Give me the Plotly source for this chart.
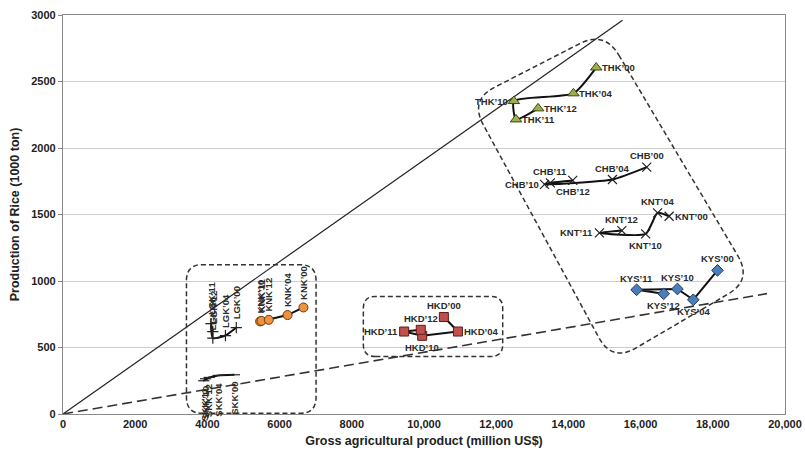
import plotly.graph_objects as go

# ---------------- data ----------------
years = ["’00", "’04", "’10", "’11", "’12"]

thk_x = [14770, 14140, 12490, 12550, 13160]
thk_y = [2605, 2411, 2353, 2215, 2298]
chb_x = [16170, 15220, 13340, 13500, 14120]
chb_y = [1856, 1763, 1726, 1738, 1756]
knt_x = [16790, 16470, 16140, 14860, 15480]
knt_y = [1487, 1512, 1354, 1362, 1379]
kys_x = [18130, 17460, 17020, 15890, 16640]
kys_y = [1080, 859, 940, 934, 904]
hkd_x = [10550, 10940, 9950, 9450, 9910]
hkd_y = [729, 620, 588, 620, 633]
knk_x = [6660, 6220, 5460, 5500, 5700]
knk_y = [801, 744, 696, 700, 708]
lgk_x = [4800, 4500, 4150, 4100, 4150]
lgk_y = [650, 590, 570, 680, 620]
skk_x = [4750, 4300, 3950, 3900, 4050]
skk_y = [295, 290, 265, 250, 275]

upper_line_x = [0, 15500]
upper_line_y = [0, 2960]
lower_line_x = [0, 19500]
lower_line_y = [0, 905]

x_tickvals = [0, 2000, 4000, 6000, 8000, 10000, 12000, 14000, 16000, 18000, 20000]
x_ticktext = ["0", "2000", "4000", "6000", "8000", "10,000", "12,000", "14,000", "16,000", "18,000", "20,000"]
y_tickvals = [0, 500, 1000, 1500, 2000, 2500, 3000]

# group outlines (data units)
left_box = [(3420, 5), (7010, 5), (7010, 1123), (3420, 1123)]
mid_box = [(8320, 432), (12180, 432), (12180, 884), (8320, 884)]
big_box = [(15000, 2880), (19090, 1008), (15210, 391), (11270, 2361)]

# ---------------- style ----------------
FONT = "Liberation Sans Narrow, Arial Narrow, Liberation Sans, sans-serif"
LBL = dict(family=FONT, size=9.5, color="#2a2a2a", weight="bold")
XR = (0, 20000)
YR = (0, 3000)
ML, MR, MT, MB = 63, 20, 15, 48
PW, PH = 805 - ML - MR, 462 - MT - MB

series = [
    ("THK", thk_x, thk_y, dict(symbol="triangle-up", size=10, color="#9BAF4F", line=dict(color="#3a4a10", width=1)), "spline", ["r", "r", "l", "r", "r"]),
    ("CHB", chb_x, chb_y, dict(symbol="x-thin", size=9, color="#222", line=dict(color="#222", width=1.2)), "spline", ["t", "t", "l", "t", "b"]),
    ("KNT", knt_x, knt_y, dict(symbol="x-thin", size=9, color="#222", line=dict(color="#222", width=1.2)), "spline", ["r", "t", "b", "l", "t"]),
    ("KYS", kys_x, kys_y, dict(symbol="diamond", size=9, color="#4A7EBB", line=dict(color="#1f3a60", width=1)), "linear", ["t", "b", "t", "t", "b"]),
    ("HKD", hkd_x, hkd_y, dict(symbol="square", size=9, color="#C0504D", line=dict(color="#5a1a18", width=1)), "linear", ["t", "r", "b", "l", "t"]),
    ("KNK", knk_x, knk_y, dict(symbol="circle", size=9, color="#F0913F", line=dict(color="#6a3a10", width=1)), "linear", ["vt"] * 5),
    ("LGK", lgk_x, lgk_y, dict(symbol="cross-thin", size=8, color="#222", line=dict(color="#222", width=1.2)), "spline", ["vt"] * 5),
    ("SKK", skk_x, skk_y, dict(symbol="line-ew", size=8, color="#222", line=dict(color="#222", width=1.2)), "spline", ["vb"] * 5),
]

fig = go.Figure()

fig.add_trace(go.Scatter(x=upper_line_x, y=upper_line_y, mode="lines",
                         line=dict(color="#222", width=1.2), showlegend=False, hoverinfo="skip"))
fig.add_trace(go.Scatter(x=lower_line_x, y=lower_line_y, mode="lines",
                         line=dict(color="#333", width=1.6, dash="10px,5px"), showlegend=False, hoverinfo="skip"))

annotations = []
for name, xs, ys, mk, shape, pos in series:
    fig.add_trace(go.Scatter(x=xs, y=ys, mode="lines+markers", name=name,
                             line=dict(color="#111", width=2, shape=shape, smoothing=0.55),
                             marker=mk, showlegend=False))
    for xv, yv, yr, p in zip(xs, ys, years, pos):
        a = dict(x=xv, y=yv, xref="x", yref="y", text=name + yr, showarrow=False, font=LBL)
        if p == "r":
            a.update(xanchor="left", yanchor="middle", xshift=4)
        elif p == "l":
            a.update(xanchor="right", yanchor="middle", xshift=-4)
        elif p == "t":
            a.update(xanchor="center", yanchor="bottom", yshift=4)
        elif p == "b":
            a.update(xanchor="center", yanchor="top", yshift=-4)
        elif p == "vt":
            a.update(textangle=-90, xanchor="center", yanchor="bottom", yshift=6)
        elif p == "vb":
            a.update(textangle=-90, xanchor="center", yanchor="top", yshift=-5)
        annotations.append(a)


def to_px(pt):
    return ((pt[0] - XR[0]) / (XR[1] - XR[0]) * PW, (pt[1] - YR[0]) / (YR[1] - YR[0]) * PH)


def to_data(p):
    return (p[0] / PW * (XR[1] - XR[0]) + XR[0], p[1] / PH * (YR[1] - YR[0]) + YR[0])


def rounded_path(corners, r):
    pts = [to_px(c) for c in corners]
    n = len(pts)
    segs = []
    for i in range(n):
        p0, p1, p2 = pts[i - 1], pts[i], pts[(i + 1) % n]
        d1 = ((p0[0] - p1[0]) ** 2 + (p0[1] - p1[1]) ** 2) ** 0.5
        d2 = ((p2[0] - p1[0]) ** 2 + (p2[1] - p1[1]) ** 2) ** 0.5
        a = (p1[0] + (p0[0] - p1[0]) * r / d1, p1[1] + (p0[1] - p1[1]) * r / d1)
        b = (p1[0] + (p2[0] - p1[0]) * r / d2, p1[1] + (p2[1] - p1[1]) * r / d2)
        segs.append((to_data(a), to_data(p1), to_data(b)))
    path = "M {},{}".format(*segs[0][2])
    for k in range(1, n + 1):
        a, c, b = segs[k % n]
        path += " L {},{} Q {},{} {},{}".format(a[0], a[1], c[0], c[1], b[0], b[1])
    return path + " Z"


shapes = []
for box, rad in [(left_box, 16), (mid_box, 12), (big_box, 28)]:
    shapes.append(dict(type="path", xref="x", yref="y", path=rounded_path(box, rad),
                       line=dict(color="#333", width=1.5, dash="5px,3px"), fillcolor="rgba(0,0,0,0)"))

fig.update_layout(
    width=805, height=462,
    margin=dict(l=ML, r=MR, t=MT, b=MB),
    paper_bgcolor="white", plot_bgcolor="white",
    font=dict(family=FONT, size=10, color="#222"),
    annotations=annotations, shapes=shapes,
    showlegend=False,
)
fig.update_xaxes(range=list(XR), tickvals=x_tickvals, ticktext=x_ticktext, automargin=False,
                 showgrid=False, zeroline=False, showline=True, linecolor="#8a8a8a", linewidth=1.2, mirror=True,
                 ticks="", tickfont=dict(family=FONT, size=11, color="#222", weight="bold"),
                 title=dict(text="<b>Gross agricultural product (million US$)</b>", font=dict(family=FONT, size=12.5, color="#222"), standoff=6))
fig.update_yaxes(range=list(YR), tickvals=y_tickvals, automargin=False,
                 showgrid=True, gridcolor="#cccccc", gridwidth=1, zeroline=False,
                 showline=True, linecolor="#8a8a8a", linewidth=1.2, mirror=True,
                 ticks="outside", ticklen=4, tickcolor="#8a8a8a",
                 tickfont=dict(family=FONT, size=11, color="#222", weight="bold"),
                 title=dict(text="<b>Production of Rice (1000 ton)</b>", font=dict(family=FONT, size=12.5, color="#222"), standoff=8))

fig.write_html("out.html", config={"displayModeBar": False},
               post_script="document.body.style.margin='0';document.body.style.overflow='hidden';")
